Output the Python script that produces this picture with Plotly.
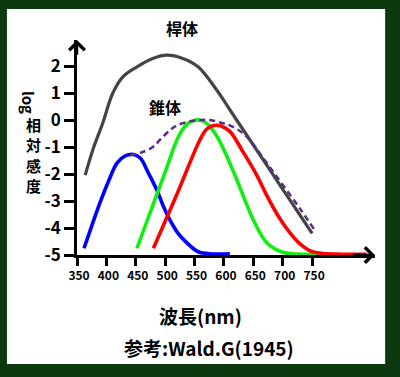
import plotly.graph_objects as go

# ---- data (wavelength nm, log relative sensitivity) ----
rod_wl = [364, 377, 394, 411, 428, 452, 479, 503, 530, 556, 588, 610, 640, 670, 700, 725, 750]
rod_v = [-2.04, -1.1, -0.1, 1.0, 1.6, 1.97, 2.28, 2.4, 2.28, 1.97, 1.1, 0.38, -0.6, -1.58, -2.57, -3.38, -4.2]

cone_wl = [440, 460, 479, 491, 507, 520, 542, 560, 576, 595, 610, 630, 644, 660, 678, 700, 730, 755]
cone_v = [-1.3, -1.2, -1.0, -0.74, -0.4, -0.2, -0.05, 0.0, 0.0, -0.1, -0.2, -0.45, -0.74, -1.2, -1.75, -2.4, -3.3, -4.1]

blue_wl = [362, 377, 389, 404, 418, 432, 446, 458, 470, 486, 497, 508, 522, 537, 556, 580, 610]
blue_v = [-4.75, -3.8, -3.07, -2.25, -1.6, -1.33, -1.28, -1.42, -1.9, -2.6, -3.2, -3.7, -4.2, -4.55, -4.88, -4.96, -4.96]

green_wl = [452, 469, 486, 503, 520, 535, 552, 568, 588, 615, 650, 673, 700, 730, 760]
green_v = [-4.75, -3.75, -2.75, -1.75, -0.74, -0.2, 0.0, -0.08, -0.6, -1.85, -3.7, -4.55, -4.9, -4.97, -4.97]

red_wl = [480, 503, 520, 537, 559, 570, 581, 595, 610, 633, 656, 673, 695, 712, 730, 747, 770, 800, 843]
red_v = [-4.75, -3.6, -2.75, -1.85, -0.74, -0.35, -0.21, -0.22, -0.42, -1.2, -2.05, -2.8, -3.65, -4.17, -4.6, -4.85, -4.95, -4.97, -4.97]

x_ticks = [350, 400, 450, 500, 550, 600, 650, 700, 750]
y_ticks = [2, 1, 0, -1, -2, -3, -4, -5]

FONT = "Noto Sans CJK JP"
X_MIN, X_MAX = 350, 857
Y_MIN, Y_MAX = -5, 2.963

fig = go.Figure()

def add_line(x, y, color, width, dash=None):
    fig.add_trace(go.Scatter(
        x=x, y=y, mode="lines",
        line=dict(color=color, width=width, shape="spline", smoothing=1.0, dash=dash),
        hoverinfo="skip", showlegend=False, cliponaxis=False))

add_line(rod_wl, rod_v, "#444444", 3.2)
add_line(blue_wl, blue_v, "#0000ff", 3.6)
add_line(green_wl, green_v, "#11ee11", 3.6)
add_line(red_wl, red_v, "#ff0000", 3.6)
add_line(cone_wl, cone_v, "#5a2d82", 2.5, dash="6px,4px")

# white panel on dark green background
fig.add_shape(type="rect", xref="paper", yref="paper", layer="below",
              x0=-0.235, x1=1.034, y0=-0.507, y1=1.144,
              fillcolor="white", line=dict(width=0))

def px_y(py):
    return (255 - py) / 215

def px_x(px):
    return (px - 77) / 298

annotations = [
    dict(text="<b>桿体</b>", x=px_x(182), y=px_y(28), size=16),
    dict(text="<b>錐体</b>", x=px_x(165), y=px_y(107), size=16),
    dict(text="<b>log</b>", x=px_x(29), y=px_y(102), size=15, textangle=90),
    dict(text="<b>相</b>", x=px_x(33), y=px_y(124), size=15),
    dict(text="<b>対</b>", x=px_x(33), y=px_y(144.5), size=15),
    dict(text="<b>感</b>", x=px_x(33), y=px_y(165), size=15),
    dict(text="<b>度</b>", x=px_x(33), y=px_y(185.5), size=15),
    dict(text="<b>波長(nm)</b>", x=px_x(200), y=px_y(315), size=19),
    dict(text="<b>参考:Wald.G(1945)</b>", x=px_x(209), y=px_y(347), size=19),
]
for a in annotations:
    size = a.pop("size")
    fig.add_annotation(xref="paper", yref="paper", showarrow=False,
                       xanchor="center", yanchor="middle",
                       font=dict(family=FONT, color="black", size=size), **a)

# axis arrowheads
fig.add_annotation(x=X_MIN, y=Y_MAX, ax=X_MIN, ay=Y_MAX - 0.6, xref="x", yref="y",
                   axref="x", ayref="y", showarrow=True, arrowhead=4, arrowsize=1.2,
                   arrowwidth=2.5, arrowcolor="black", text="")
fig.add_annotation(x=X_MAX, y=Y_MIN, ax=X_MAX - 40, ay=Y_MIN, xref="x", yref="y",
                   axref="x", ayref="y", showarrow=True, arrowhead=4, arrowsize=1.2,
                   arrowwidth=2.5, arrowcolor="black", text="")

fig.update_xaxes(range=[X_MIN, X_MAX], tickvals=x_ticks, ticktext=[str(v) for v in x_ticks],
                 showline=True, linecolor="black", linewidth=2.5,
                 ticks="outside", ticklen=8, tickwidth=2.5, tickcolor="black",
                 showgrid=False, zeroline=False, ticklabelshift=2,
                 tickfont=dict(family=FONT, size=12, color="black", weight="bold"))
fig.update_yaxes(range=[Y_MIN, Y_MAX], tickvals=y_ticks, ticktext=[str(v) for v in y_ticks],
                 showline=True, linecolor="black", linewidth=2.5,
                 ticks="outside", ticklen=10, tickwidth=2.5, tickcolor="black",
                 showgrid=False, zeroline=False,
                 tickfont=dict(family=FONT, size=17, color="black", weight="bold"))

fig.update_layout(
    width=400, height=377,
    margin=dict(l=77, r=25, t=40, b=122, pad=0),
    paper_bgcolor="#0c3a0e", plot_bgcolor="white",
    showlegend=False,
    font=dict(family=FONT),
)

fig.write_html("out.html", config={"displayModeBar": False},
               post_script="document.body.style.margin='0';document.body.style.padding='0';")
